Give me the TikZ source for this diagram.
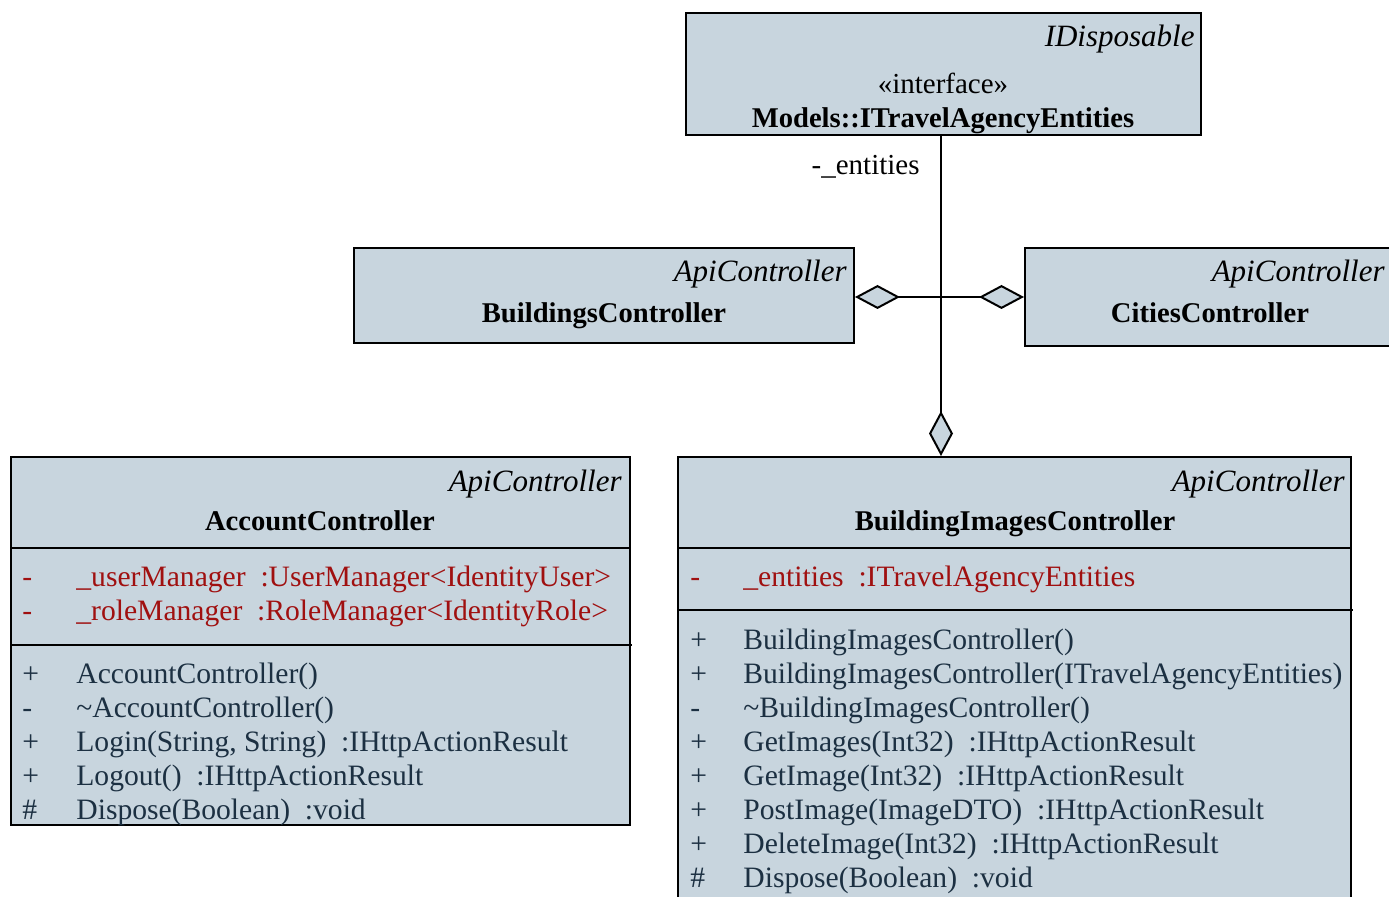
\documentclass[tikz,border=0pt]{standalone}
\usepackage{fontspec}
\setmainfont{Liberation Serif}
\usetikzlibrary{arrows.meta}
\definecolor{boxfill}{RGB}{200,213,222}
\definecolor{attrred}{RGB}{160,16,16}
\definecolor{methblue}{RGB}{28,48,66}
\begin{document}
\begin{tikzpicture}[x=0.5pt,y=-0.5pt,
  box/.style={draw=black,line width=1pt,fill=boxfill,rectangle,anchor=north west,inner sep=0pt},
  txt/.style={inner sep=0pt,anchor=base west,font=\fontsize{14.8}{17}\selectfont},
  attr/.style={txt,text=attrred},
  meth/.style={txt,text=methblue},
  stereo/.style={inner sep=0pt,anchor=base east,font=\fontsize{15.5}{18}\selectfont\itshape},
  plainc/.style={inner sep=0pt,anchor=base,font=\fontsize{14.5}{17}\selectfont},
  cname/.style={inner sep=0pt,anchor=base,font=\fontsize{14.3}{17}\selectfont\bfseries},
  agg/.style={draw=black,line width=1pt,-{Diamond[length=22.5pt,width=12pt,fill=boxfill]}},
  sepline/.style={draw=black,line width=1pt}]
\useasboundingbox (0,0) rectangle (1389,897);
\clip (0,0) rectangle (1389,897);

% boxes
\node[box,minimum width=257.5pt,minimum height=61pt] (iface) at (685,12) {};
\node[box,minimum width=250pt,minimum height=47.5pt] (bldg) at (353,247) {};
\node[box,minimum width=185.5pt,minimum height=49pt] (cities) at (1024,247) {};
\node[box,minimum width=309.5pt,minimum height=184pt] (acct) at (10,456) {};
\node[box,minimum width=336.5pt,minimum height=230pt] (bic) at (677,456) {};

% interface
\node[stereo] (ifst) at (1195,47) {IDisposable};
\node[plainc] (ifkw) at (943,94) {«interface»};
\node[cname] (ifname) at (943,128) {Models::ITravelAgencyEntities};

% BuildingsController
\node[stereo] (bldgst) at (847,282) {ApiController};
\node[cname] (bldgname) at (604,323) {BuildingsController};

% CitiesController
\node[stereo] (citst) at (1385,282) {ApiController};
\node[cname] (citname) at (1210,323) {CitiesController};

% AccountController
\node[stereo] (acst) at (622,492) {ApiController};
\node[cname] (acname) at (320,531) {AccountController};
\draw[sepline] (10,548) -- (629,548);
\draw[sepline] (10,645) -- (632,645);
\node[attr] (aa1v) at (22,587) {-};
\node[attr] (aa1) at (76,587) {\_userManager\ \ :UserManager<IdentityUser>};
\node[attr] (aa2v) at (22,621) {-};
\node[attr] (aa2) at (76,621) {\_roleManager\ \ :RoleManager<IdentityRole>};
\node[meth] (am1v) at (22,684) {+};
\node[meth] (am1) at (76,684) {AccountController()};
\node[meth] (am2v) at (22,718) {-};
\node[meth] (am2) at (76,718) {\textasciitilde AccountController()};
\node[meth] (am3v) at (22,752) {+};
\node[meth] (am3) at (76,752) {Login(String, String)\ \ :IHttpActionResult};
\node[meth] (am4v) at (22,786) {+};
\node[meth] (am4) at (76,786) {Logout()\ \ :IHttpActionResult};
\node[meth] (am5v) at (22,820) {\#};
\node[meth] (am5) at (76,820) {Dispose(Boolean)\ \ :void};

% BuildingImagesController
\node[stereo] (bist) at (1345,492) {ApiController};
\node[cname] (biname) at (1015,531) {BuildingImagesController};
\draw[sepline] (677,548) -- (1350,548);
\draw[sepline] (677,610) -- (1353,610);
\node[attr] (ba1v) at (690,587) {-};
\node[attr] (ba1) at (743,587) {\_entities\ \ :ITravelAgencyEntities};
\node[meth] (bm1v) at (690,650) {+};
\node[meth] (bm1) at (743,650) {BuildingImagesController()};
\node[meth] (bm2v) at (690,684) {+};
\node[meth] (bm2) at (743,684) {BuildingImagesController(ITravelAgencyEntities)};
\node[meth] (bm3v) at (690,718) {-};
\node[meth] (bm3) at (743,718) {\textasciitilde BuildingImagesController()};
\node[meth] (bm4v) at (690,752) {+};
\node[meth] (bm4) at (743,752) {GetImages(Int32)\ \ :IHttpActionResult};
\node[meth] (bm5v) at (690,786) {+};
\node[meth] (bm5) at (743,786) {GetImage(Int32)\ \ :IHttpActionResult};
\node[meth] (bm6v) at (690,820) {+};
\node[meth] (bm6) at (743,820) {PostImage(ImageDTO)\ \ :IHttpActionResult};
\node[meth] (bm7v) at (690,854) {+};
\node[meth] (bm7) at (743,854) {DeleteImage(Int32)\ \ :IHttpActionResult};
\node[meth] (bm8v) at (690,888) {\#};
\node[meth] (bm8) at (743,888) {Dispose(Boolean)\ \ :void};

% connectors
\coordinate (j) at (941,297);
\draw[agg] (iface.south -| j) -- (bic.north -| j);
\draw[agg] (j) -- (bldg.east |- j);
\draw[agg] (j) -- (cities.west |- j);
\node[inner sep=0pt,anchor=base east,font=\fontsize{14.5}{17}\selectfont] (ent) at (920,175) {-\_entities};
\end{tikzpicture}
\end{document}
